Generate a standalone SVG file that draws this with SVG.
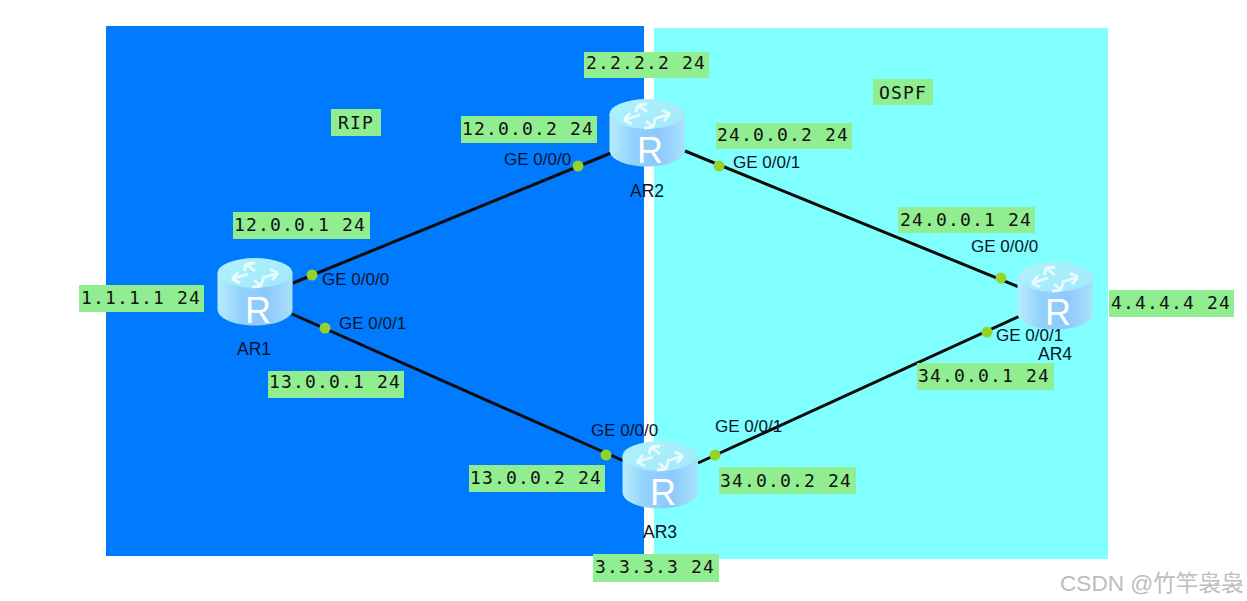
<svg xmlns="http://www.w3.org/2000/svg" width="1247" height="601" viewBox="0 0 1247 601">
<style>
.lb{fill:#90ee90}
.lt{font-family:"DejaVu Sans Mono",monospace;font-size:18px;letter-spacing:1.15px;fill:#111;text-anchor:middle}
.if{font-family:"Liberation Sans",Arial,sans-serif;font-size:17px;fill:#0a1428}
.nm{font-family:"Liberation Sans",Arial,sans-serif;font-size:17.500px;fill:#0a1428;text-anchor:middle}
.r{font-family:"Liberation Sans",Arial,sans-serif;font-size:36px;fill:#fff;text-anchor:middle}
.w{font-family:"Liberation Sans","Noto Sans CJK SC",sans-serif;font-size:22.6px;fill:#bdbdbd}
.dot{fill:#92d32c}
.ln{stroke:#0a0a0a;stroke-width:3;fill:none}
</style>
<defs>
<linearGradient id="body" x1="0" x2="1" y1="0" y2="0">
<stop offset="0" stop-color="#b8ecfc"/><stop offset="0.3" stop-color="#93d2fc"/><stop offset="0.65" stop-color="#8ec8fc"/><stop offset="1" stop-color="#a8e0fb"/>
</linearGradient>
<linearGradient id="top" x1="0" x2="1" y1="0" y2="1">
<stop offset="0" stop-color="#aef2fb"/><stop offset="1" stop-color="#a2e8fb"/>
</linearGradient>
<g id="router">
<path d="M-37.500 -19V17C-37.500 27 -20 33.500 0 33.500S37.500 27 37.500 17V-19Z" fill="url(#body)"/>
<ellipse cx="0" cy="-19" rx="37.500" ry="15" fill="url(#top)"/>
<path d="M-23 -13L-7 -18M-23 -13L-15 -9M-23 -13L-17 -20M23 -19L7 -14M23 -19L15 -23M23 -19L17 -12M-9 -28L0 -21M-9 -28L-11 -21M-9 -28L0 -29M6 -6L-1 -12M6 -6L8 -13M6 -6L-3 -5" stroke="#e8fbff" stroke-width="2.800" fill="none"/>
</g>
</defs>
<rect width="1247" height="601" fill="#fff"/>
<rect x="106" y="26" width="538" height="530" fill="#007bff"/>
<rect x="654" y="28" width="454" height="531" fill="#80ffff"/>
<g id="connectors">
<path class="ln" d="M293 283L611 153"/>
<path class="ln" d="M292 314L624 461"/>
<path class="ln" d="M685 151L1019 287"/>
<path class="ln" d="M698 463L1020 316"/>
<circle class="dot" cx="312" cy="275" r="5.500"/>
<circle class="dot" cx="325" cy="328" r="5.500"/>
<circle class="dot" cx="578" cy="166" r="5.500"/>
<circle class="dot" cx="719" cy="166" r="5.500"/>
<circle class="dot" cx="606" cy="455" r="5.500"/>
<circle class="dot" cx="715" cy="455" r="5.500"/>
<circle class="dot" cx="1001" cy="278" r="5.500"/>
<circle class="dot" cx="987" cy="332" r="5.500"/>
</g>
<g id="AR1"><use href="#router" x="255" y="292"/><text class="r" x="258" y="323">R</text><text class="nm" x="254" y="355">AR1</text></g>
<g id="AR2"><use href="#router" x="647" y="133"/><text class="r" x="650" y="163">R</text><text class="nm" x="647" y="197">AR2</text></g>
<g id="AR3"><use href="#router" x="660" y="475"/><text class="r" x="663" y="505">R</text><text class="nm" x="660" y="538">AR3</text></g>
<g id="AR4"><use href="#router" x="1055" y="296"/><text class="r" x="1058" y="325">R</text><text class="nm" x="1055" y="360">AR4</text></g>
<g id="if-labels">
<text class="if" x="322" y="285">GE 0/0/0</text>
<text class="if" x="339" y="329">GE 0/0/1</text>
<text class="if" x="504" y="165">GE 0/0/0</text>
<text class="if" x="733" y="168">GE 0/0/1</text>
<text class="if" x="591" y="436">GE 0/0/0</text>
<text class="if" x="715" y="432">GE 0/0/1</text>
<text class="if" x="971" y="252">GE 0/0/0</text>
<text class="if" x="996" y="341">GE 0/0/1</text>
</g>
<g id="tag-RIP"><rect class="lb" x="331" y="109" width="50" height="27"/><text class="lt" x="356" y="129">RIP</text></g>
<g id="tag-OSPF"><rect class="lb" x="873" y="79" width="60" height="26"/><text class="lt" x="903" y="99">OSPF</text></g>
<g id="tag-1"><rect class="lb" x="584" y="52" width="125" height="26"/><text class="lt" x="646" y="69">2.2.2.2 24</text></g>
<g id="tag-2"><rect class="lb" x="593" y="554" width="126" height="28"/><text class="lt" x="655" y="573">3.3.3.3 24</text></g>
<g id="tag-3"><rect class="lb" x="461" y="116" width="136" height="27"/><text class="lt" x="528" y="135">12.0.0.2 24</text></g>
<g id="tag-4"><rect class="lb" x="716" y="123" width="136" height="26"/><text class="lt" x="783" y="141">24.0.0.2 24</text></g>
<g id="tag-5"><rect class="lb" x="233" y="212" width="137" height="27"/><text class="lt" x="300" y="231">12.0.0.1 24</text></g>
<g id="tag-6"><rect class="lb" x="79" y="285" width="125" height="27"/><text class="lt" x="141" y="304">1.1.1.1 24</text></g>
<g id="tag-7"><rect class="lb" x="268" y="371" width="136" height="27"/><text class="lt" x="335" y="388">13.0.0.1 24</text></g>
<g id="tag-8"><rect class="lb" x="469" y="465" width="136" height="27"/><text class="lt" x="536" y="484">13.0.0.2 24</text></g>
<g id="tag-9"><rect class="lb" x="719" y="467" width="137" height="27"/><text class="lt" x="786" y="487">34.0.0.2 24</text></g>
<g id="tag-10"><rect class="lb" x="898" y="207" width="137" height="26"/><text class="lt" x="966" y="226">24.0.0.1 24</text></g>
<g id="tag-11"><rect class="lb" x="917" y="363" width="137" height="27"/><text class="lt" x="984" y="382">34.0.0.1 24</text></g>
<g id="tag-12"><rect class="lb" x="1109" y="290" width="125" height="27"/><text class="lt" x="1171" y="309">4.4.4.4 24</text></g>
<text class="w" x="1060" y="591">CSDN @竹竿袅袅</text>
</svg>
